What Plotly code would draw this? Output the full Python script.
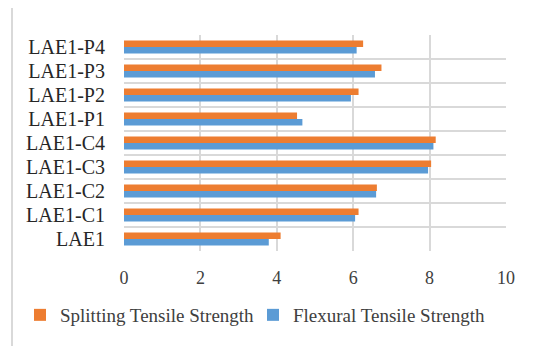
import plotly.graph_objects as go

categories = ["LAE1", "LAE1-C1", "LAE1-C2", "LAE1-C3", "LAE1-C4",
              "LAE1-P1", "LAE1-P2", "LAE1-P3", "LAE1-P4"]
splitting = [4.10, 6.14, 6.62, 8.04, 8.16, 4.53, 6.14, 6.74, 6.26]
flexural = [3.79, 6.05, 6.60, 7.96, 8.10, 4.67, 5.94, 6.57, 6.09]
x_ticks = [0, 2, 4, 6, 8, 10]

pos = list(range(len(categories)))

# page body has an 8px default margin, so the figure is drawn 8px smaller
W, H = 532, 338
L, R, T, B = 116, 34, 27, 95

fig = go.Figure()
fig.add_trace(go.Bar(y=pos, x=flexural, orientation="h", name="Flexural Tensile Strength",
                     legend="legend2",
                     marker=dict(color="#5B9BD5", line=dict(width=0))))
fig.add_trace(go.Bar(y=pos, x=splitting, orientation="h", name="Splitting Tensile Strength",
                     legend="legend",
                     marker=dict(color="#ED7D31", line=dict(width=0))))

font = "Liberation Serif, Times New Roman, serif"
legend_common = dict(orientation="h", xref="container", yref="container",
                     xanchor="left", yanchor="middle", y=(338 - 307) / 338,
                     font=dict(family=font, size=19, color="#404040"),
                     itemwidth=30, bgcolor="rgba(0,0,0,0)")
fig.update_layout(
    width=W, height=H,
    margin=dict(l=L, r=R, t=T, b=B, autoexpand=False),
    paper_bgcolor="white", plot_bgcolor="white",
    barmode="group", bargap=0.46, bargroupgap=0,
    font=dict(family=font, color="#404040"),
    showlegend=True,
    legend=dict(x=(20 - 8) / W, **legend_common),
    legend2=dict(x=(253 - 8) / W, **legend_common),
    xaxis=dict(range=[0, 10], tickvals=x_ticks, showgrid=True, gridcolor="#d9d9d9",
               gridwidth=2, zeroline=False, showline=False, automargin=False,
               tickfont=dict(family=font, size=18, color="#404040"), ticks="outside", ticklen=10,
               tickcolor="rgba(0,0,0,0)"),
    yaxis=dict(range=[-0.5, len(categories) - 0.5], tickvals=pos, ticktext=categories,
               showgrid=False, zeroline=False, showline=False, automargin=False,
               ticks="outside", ticklen=14, tickcolor="rgba(0,0,0,0)",
               tickfont=dict(family=font, size=20, color="#262626"),
               minor=dict(tickvals=[p - 0.5 for p in pos] + [len(categories) - 0.5],
                          showgrid=True, gridcolor="#d9d9d9", gridwidth=2,
                          ticks="")),
    shapes=[dict(type="line", xref="paper", yref="paper",
                 x0=(4 - L) / 382, x1=(4 - L) / 382, y0=-B / 216, y1=(H - B) / 216,
                 line=dict(color="#d9d9d9", width=2))],
)

fig.write_html("out.html")
